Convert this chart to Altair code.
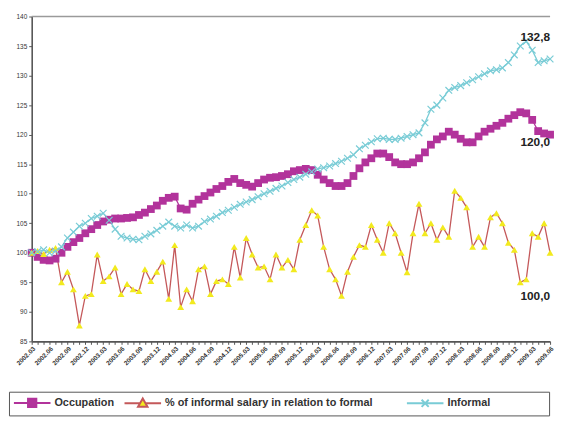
import json
import altair as alt
import pandas as pd

# ---------------- data ----------------
series_names = ["Occupation", "% of informal salary in relation to formal", "Informal"]

occupation = [
    100.0, 99.3, 98.8, 98.7, 99.0, 100.0, 101.0, 101.8, 102.5, 103.3,
    104.0, 104.7, 105.3, 105.6, 105.8, 105.8, 105.9, 106.0, 106.4, 106.8,
    107.4, 108.0, 108.8, 109.3, 109.5, 107.5, 107.3, 108.3, 109.0, 109.6,
    110.2, 110.8, 111.3, 112.0, 112.5, 111.8, 111.5, 111.2, 111.8, 112.4,
    112.7, 112.8, 113.0, 113.3, 113.8, 114.0, 114.2, 114.0, 113.2, 112.4,
    111.8, 111.3, 111.3, 111.8, 113.0, 114.3, 115.3, 116.0, 116.8, 116.8,
    116.2, 115.3, 115.0, 115.0, 115.3, 116.0, 117.0, 118.3, 119.2, 119.7,
    120.5, 120.0, 119.3, 118.7, 118.7, 119.7, 120.5, 121.0, 121.5, 122.0,
    122.7, 123.3, 123.8, 123.6, 122.5, 120.6, 120.2, 120.0,
]

informal_salary_pct = [
    100.0, 100.3, 99.8, 100.5, 100.8, 95.0, 96.8, 93.8, 87.7, 92.7,
    93.0, 99.7, 95.2, 96.0, 97.5, 93.0, 94.7, 93.8, 93.5, 97.2,
    95.2, 96.8, 98.5, 92.2, 101.3, 90.8, 93.8, 91.8, 97.2, 97.7,
    93.0, 95.2, 95.5, 94.7, 101.0, 95.8, 102.5, 99.7, 97.5, 97.7,
    95.5, 99.7, 97.5, 98.8, 97.2, 102.2, 104.7, 107.2, 106.3, 101.0,
    97.2, 95.5, 92.7, 96.8, 99.3, 101.3, 101.0, 104.7, 102.2, 100.0,
    105.0, 103.3, 100.0, 96.7, 103.3, 108.3, 103.3, 105.0, 102.2, 104.3,
    102.7, 110.5, 109.3, 107.7, 101.0, 102.7, 101.0, 106.0, 106.7, 105.0,
    101.7, 100.5, 95.0, 95.5, 103.3, 102.7, 105.0, 100.0,
]

informal = [
    100.0, 100.2, 100.5, 100.0, 100.3, 101.0, 102.5, 103.5, 104.5, 105.0,
    105.8, 106.2, 106.7, 105.5, 104.0, 102.8, 102.5, 102.3, 102.2, 102.8,
    103.2, 103.8, 104.5, 105.2, 104.5, 104.2, 104.7, 104.2, 104.5, 105.3,
    105.7, 106.2, 106.8, 107.2, 107.7, 108.2, 108.6, 109.0, 109.5, 110.0,
    110.4, 110.9, 111.3, 111.9, 112.4, 112.8, 113.3, 113.7, 114.2, 114.4,
    114.7, 115.1, 115.5, 116.0, 116.6, 117.6, 118.2, 118.8, 119.3, 119.4,
    119.2, 119.2, 119.4, 119.7, 120.0, 120.3, 122.0, 124.3, 125.0, 126.2,
    127.5, 128.0, 128.3, 128.8, 129.3, 129.8, 130.3, 130.8, 131.0, 131.3,
    132.2, 133.5, 135.0, 135.8, 134.3, 132.2, 132.5, 132.8,
]

end_labels = ["120,0", "100,0", "132,8"]
y_ticks = [85, 90, 95, 100, 105, 110, 115, 120, 125, 130, 135, 140]
top_value = [140]

# month tick labels (March 2002 onward)
month_labels = []
yy, mm = 2002, 3
for _ in range(len(occupation)):
    month_labels.append(f"{yy}.{mm:02d}")
    mm += 1
    if mm > 12:
        mm = 1
        yy += 1

# ---------------- table ----------------
rows = []
for name, vals in zip(series_names, [occupation, informal_salary_pct, informal]):
    for i, v in enumerate(vals):
        rows.append({"idx": i, "series": name, "value": v})
df = pd.DataFrame(rows)

last = len(occupation) - 1
lab_df = pd.DataFrame({
    "idx": [last] * 3,
    "series": series_names,
    "value": [occupation[-1], informal_salary_pct[-1], informal[-1]],
    "label": end_labels,
})

# ---------------- styles ----------------
MAGENTA = "#B2339B"
RED = "#C4585A"
YELLOW = "#F2EA1E"
CYAN = "#79CCD6"
line_colors = [MAGENTA, RED, CYAN]
marker_fill = [MAGENTA, YELLOW, CYAN]
legend_paths = [
    "M-1,0H1.38M2.78,0H5.17M1.38,-0.7H2.78V0.7H1.38Z",
    "M-1,0H1.62M2.54,0H5.17M2.08,-0.8L2.88,0.6H1.28Z",
    "M-1,0H5.17M1.48,-0.6L2.68,0.6M1.48,0.6L2.68,-0.6",
]
FONT = "Liberation Sans"
NB = "\u00a0"
ZW = "\u200b"

x_label_expr = (
    f"datum.value % 3 == 0 ? {json.dumps(month_labels)}[datum.value] : ''"
)

x_axis = alt.Axis(
    values=list(range(len(occupation))),
    labelExpr=x_label_expr,
    labelAngle=-45,
    labelFontSize=6.5,
    labelFont=FONT,
    labelFontWeight="bold",
    labelColor="#333",
    labelOverlap=False,
    labelFlush=False,
    labelPadding=1,
    tickSize=3,
    tickColor="#555",
    domainColor="#555",
    domainWidth=1.6,
    grid=False,
    title=None,
)
y_axis = alt.Axis(
    values=y_ticks,
    format="d",
    labelFontSize=6.5,
    labelFont=FONT,
    labelColor="#333",
    labelOverlap=False,
    labelFlush=False,
    tickSize=3,
    tickColor="#555",
    domainColor="#555",
    domainWidth=1.6,
    grid=False,
    title=None,
    minExtent=23,
    maxExtent=23,
)

x_enc = alt.X("idx:Q", scale=alt.Scale(domain=[0, last], nice=False, zero=False), axis=x_axis)
y_enc = alt.Y("value:Q", scale=alt.Scale(domain=[85, 140], nice=False, zero=False), axis=y_axis)

leg = alt.Legend(
    title=None,
    orient="none",
    legendX=-23,
    legendY=380,
    direction="horizontal",
    strokeColor="#555",
    fillColor="white",
    padding=4,
    columnPadding=6,
    symbolStrokeWidth=2,
    symbolSize=144,
    labelOffset=28,
    labelFont=FONT,
    labelFontSize=11,
    labelFontWeight="bold",
    labelColor="#333",
    labelLimit=800,
    labelExpr=(
        f"datum.label == 'Informal' ? 'Informal' + '{NB * 18}{ZW}' : "
        f"(datum.label == '{series_names[1]}' ? datum.label + '{NB * 8}{ZW}' : datum.label)"
    ),
)

base = alt.Chart(df)

stroke_scale = alt.Scale(domain=series_names, range=line_colors)

lines = base.mark_line(strokeWidth=1.3).encode(
    x=x_enc, y=y_enc,
    stroke=alt.Stroke("series:N", scale=stroke_scale, legend=leg),
    detail="series:N",
)

occ_pts = base.transform_filter(alt.datum.series == series_names[0]).mark_point(
    shape="square", filled=True, size=62, color=MAGENTA, opacity=1
).encode(x=x_enc, y=y_enc)

pct_pts = base.transform_filter(alt.datum.series == series_names[1]).mark_point(
    shape="triangle-up", filled=True, size=48, color=YELLOW, opacity=1
).encode(x=x_enc, y=y_enc)

inf_pts = base.transform_filter(alt.datum.series == series_names[2]).mark_point(
    shape="M-1,-1L1,1M-1,1L1,-1", filled=False, size=46, color=CYAN, strokeWidth=1.2, opacity=1
).encode(x=x_enc, y=y_enc)

carrier = base.transform_filter("false").mark_point(filled=True, size=144, opacity=1).encode(
    x=x_enc, y=y_enc,
    shape=alt.Shape("series:N", scale=alt.Scale(domain=series_names, range=legend_paths), legend=leg),
    fill=alt.Fill("series:N", scale=alt.Scale(domain=series_names, range=marker_fill), legend=leg),
    stroke=alt.Stroke("series:N", scale=stroke_scale, legend=leg),
)

top_rule = alt.Chart(pd.DataFrame({"value": top_value})).mark_rule(
    color="#9a9a9a", strokeWidth=1.5
).encode(y=y_enc)

lab_base = alt.Chart(lab_df)
text_style = dict(align="right", baseline="middle", fontSize=12, fontWeight="bold",
                  font=FONT, color="#222")
t_occ = lab_base.transform_filter(alt.datum.series == series_names[0]).mark_text(
    dy=8, **text_style).encode(x=x_enc, y=y_enc, text="label:N")
t_pct = lab_base.transform_filter(alt.datum.series == series_names[1]).mark_text(
    dy=44, **text_style).encode(x=x_enc, y=y_enc, text="label:N")
t_inf = lab_base.transform_filter(alt.datum.series == series_names[2]).mark_text(
    dy=-22, **text_style).encode(x=x_enc, y=y_enc, text="label:N")

chart = alt.layer(
    lines, carrier, top_rule, occ_pts, pct_pts, inf_pts, t_occ, t_pct, t_inf
).properties(
    width=525,
    height=329,
    padding={"left": 0, "top": 3, "right": 0, "bottom": 0},
    background="white",
).configure_view(strokeWidth=0)

chart.save("out.html", embed_options={"renderer": "svg", "actions": False})
